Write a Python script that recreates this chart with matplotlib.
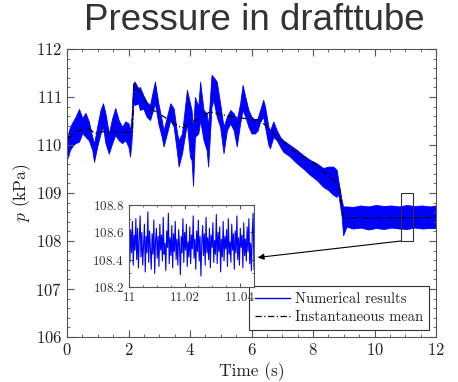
import numpy as np
import matplotlib
matplotlib.use('Agg')
import matplotlib.pyplot as plt
from matplotlib.patches import Rectangle
from matplotlib.ticker import MultipleLocator

# envelope of the numerical signal
t_env = [0.00, 0.10, 0.20, 0.28, 0.39, 0.50, 0.60, 0.71, 0.82, 0.88, 0.98, 1.09, 1.17, 1.25,
         1.36, 1.47, 1.57, 1.68, 1.79, 1.90, 2.00, 2.05, 2.10, 2.15, 2.20, 2.32, 2.37, 2.48,
         2.59, 2.70, 2.80, 2.86, 2.97, 3.08, 3.14, 3.25, 3.36, 3.47, 3.58, 3.63, 3.74, 3.90,
         4.00, 4.05, 4.10, 4.16, 4.27, 4.33, 4.44, 4.54, 4.59, 4.70, 4.76, 4.87, 4.98, 5.09,
         5.20, 5.31, 5.42, 5.52, 5.63, 5.71, 5.80, 5.90, 6.00, 6.11, 6.20, 6.28, 6.38, 6.44,
         6.55, 6.60, 6.71, 6.82, 6.93, 7.03, 7.25, 7.47, 7.68, 7.90, 8.12, 8.33, 8.50, 8.66,
         8.77, 8.82, 8.93, 8.98, 9.09, 9.30, 9.55, 9.80, 10.05, 10.30, 10.55, 10.80, 11.05,
         11.30, 11.55, 11.80, 12.00]
p_lo = [109.70, 109.90, 110.00, 110.04, 110.07, 110.25, 110.17, 110.10, 109.90, 109.65, 109.96,
        110.24, 110.38, 110.04, 109.82, 110.04, 110.21, 110.10, 110.04, 110.10, 109.96, 109.76,
        110.10, 110.87, 110.83, 110.87, 110.73, 110.76, 110.59, 110.52, 110.73, 110.87, 110.45,
        110.17, 109.97, 110.24, 110.52, 110.38, 109.83, 109.55, 109.83, 110.45, 109.75, 109.69,
        109.15, 110.17, 110.24, 110.52, 110.10, 109.90, 109.55, 110.80, 110.94, 110.59, 110.38,
        109.83, 110.31, 110.45, 110.31, 109.97, 110.45, 110.73, 110.59, 110.38, 110.24, 110.24,
        110.30, 110.49, 110.59, 110.38, 110.00, 109.93, 110.17, 110.10, 109.97, 109.86, 109.76,
        109.62, 109.51, 109.38, 109.27, 109.13, 109.06, 108.96, 108.92, 108.99, 108.52, 108.12,
        108.30, 108.26, 108.28, 108.24, 108.27, 108.25, 108.28, 108.26, 108.25, 108.28, 108.26,
        108.27, 108.27]
p_hi = [110.15, 110.38, 110.50, 110.59, 110.75, 110.56, 110.67, 110.49, 110.17, 110.03, 110.38,
        110.73, 110.87, 110.66, 110.24, 110.56, 110.77, 110.52, 110.38, 110.49, 110.45, 110.30,
        110.60, 111.28, 111.32, 111.18, 111.21, 111.04, 110.90, 110.83, 111.15, 111.32, 110.87,
        110.52, 110.30, 110.59, 110.87, 110.76, 110.24, 110.10, 110.24, 111.15, 110.87, 110.73,
        110.30, 111.00, 110.80, 111.32, 110.73, 110.66, 110.40, 111.46, 111.42, 111.32, 110.87,
        110.38, 110.59, 110.73, 110.66, 110.52, 110.87, 111.25, 111.00, 110.73, 110.59, 110.52,
        110.56, 110.73, 110.94, 110.80, 110.38, 110.30, 110.49, 110.31, 110.17, 110.10, 110.00,
        109.90, 109.79, 109.69, 109.62, 109.52, 109.55, 109.55, 109.48, 109.27, 108.85, 108.72,
        108.72, 108.71, 108.74, 108.72, 108.75, 108.73, 108.74, 108.72, 108.75, 108.73, 108.74,
        108.72, 108.74]

# instantaneous mean
t_mean = [0.0, 0.3, 0.71, 0.9, 1.2, 2.0, 2.13, 2.17, 2.7, 3.74, 4.65, 5.3, 6.0, 6.28, 6.7,
          7.25, 8.12, 8.85, 9.0, 12.0]
p_mean = [110.12, 110.28, 110.35, 110.24, 110.28, 110.26, 110.26, 111.28, 110.77, 110.35,
          110.69, 110.60, 110.53, 110.52, 110.24, 109.93, 109.58, 109.15, 108.48, 108.49]

# zoomed window 11 - 11.045 s
p_zoom = [108.55, 108.38, 108.62, 108.45, 108.68, 108.36, 108.58, 108.47, 108.70, 108.40, 108.63,
          108.34, 108.55, 108.72, 108.42, 108.60, 108.36, 108.52, 108.66, 108.31, 108.57, 108.45,
          108.75, 108.38, 108.61, 108.48, 108.33, 108.59, 108.44, 108.69, 108.30, 108.54, 108.63,
          108.41, 108.57, 108.35, 108.66, 108.47, 108.58, 108.39, 108.71, 108.44, 108.52, 108.32,
          108.61, 108.49, 108.74, 108.37, 108.56, 108.43, 108.65, 108.34, 108.59, 108.46, 108.68,
          108.40, 108.55, 108.36, 108.62, 108.50, 108.29, 108.57, 108.45, 108.70, 108.38, 108.60,
          108.47, 108.66, 108.35, 108.53, 108.42, 108.64, 108.37, 108.58, 108.48, 108.72, 108.41,
          108.55, 108.33, 108.61, 108.46, 108.69, 108.39, 108.57, 108.28, 108.52, 108.65, 108.43,
          108.59, 108.36, 108.71, 108.45, 108.56, 108.40, 108.63, 108.34, 108.58, 108.49, 108.67,
          108.38, 108.54, 108.44, 108.73, 108.37, 108.60, 108.46, 108.64, 108.31, 108.55, 108.42,
          108.68, 108.39, 108.57, 108.48, 108.62, 108.35, 108.70, 108.44, 108.53, 108.38, 108.66,
          108.47, 108.59, 108.33, 108.61, 108.45, 108.72, 108.40, 108.56, 108.36, 108.63, 108.49,
          108.58, 108.34, 108.67, 108.43, 108.55, 108.39, 108.64, 108.46, 108.70, 108.37, 108.52,
          108.32, 108.60, 108.74, 108.33]
t_zoom = np.linspace(11.0, 11.045, len(p_zoom))

plt.rcParams['font.family'] = 'serif'
plt.rcParams['font.serif'] = ['cmr10']
plt.rcParams['mathtext.fontset'] = 'cm'
plt.rcParams['axes.formatter.use_mathtext'] = True

blue = '#0000ff'
gray = '#555555'
txt = '#222222'

fig = plt.figure(figsize=(4.58, 3.82), dpi=100)
ax = fig.add_axes([67/458, 1-337/382, (436-67)/458, (337-49)/382])

ax.fill_between(t_env, p_lo, p_hi, color=blue, lw=0.6, edgecolor=blue)
ax.plot(t_mean, p_mean, color='k', ls='-.', lw=0.9, dashes=(5, 2, 1, 2))
ax.plot([], [], color=blue, lw=1.0, label='Numerical results')
ax.plot([], [], color='k', ls='-.', lw=0.9, dashes=(5, 2, 1, 2), label='Instantaneous mean')

ax.set_xlim(0, 12)
ax.set_ylim(106, 112)
ax.xaxis.set_major_locator(MultipleLocator(2))
ax.xaxis.set_minor_locator(MultipleLocator(0.5))
ax.yaxis.set_major_locator(MultipleLocator(1))
ax.yaxis.set_minor_locator(MultipleLocator(0.2))
ax.tick_params(which='both', direction='in', top=True, right=True, color=gray,
               labelsize=12, labelcolor=txt)
ax.tick_params(which='major', length=5)
ax.tick_params(which='minor', length=2.5)
for s in ax.spines.values():
    s.set_color(gray)
ax.set_xlabel('Time (s)', fontsize=12.5, labelpad=3, color=txt)
ax.set_ylabel('$p$ (kPa)', fontsize=12.5, labelpad=2, color=txt)

ax.add_patch(Rectangle((10.86, 108.0), 0.38, 1.0, fill=False, ec='#333333', lw=0.8, zorder=5))

leg = ax.legend(loc='lower right', fontsize=10.5, fancybox=False, framealpha=1,
                edgecolor='#333333', handlelength=2.4, borderpad=0.45, labelspacing=0.3,
                handletextpad=0.3, borderaxespad=0.45)
leg.get_frame().set_linewidth(0.8)
for t in leg.get_texts():
    t.set_color(txt)

axin = fig.add_axes([129/458, 1-287/382, (254-129)/458, (287-205)/382])
axin.plot(t_zoom, p_zoom, color=blue, lw=0.8)
axin.set_xlim(11.0, 11.045)
axin.set_ylim(108.2, 108.8)
axin.set_xticks([11.0, 11.02, 11.04])
axin.set_xticklabels(['11', '11.02', '11.04'])
axin.xaxis.set_minor_locator(MultipleLocator(0.005))
axin.yaxis.set_major_locator(MultipleLocator(0.2))
axin.yaxis.set_minor_locator(MultipleLocator(0.1))
axin.tick_params(which='both', direction='in', top=True, right=True, color=gray,
                 labelsize=9.5, labelcolor='#333333')
axin.tick_params(which='major', length=3)
axin.tick_params(which='minor', length=1.5)
for s in axin.spines.values():
    s.set_color(gray)

ax.annotate('', xy=(1.03, 0.36), xycoords=axin.transAxes, xytext=(10.86, 108.0),
            textcoords='data', arrowprops=dict(arrowstyle='-|>', color='k', lw=0.8,
                                               shrinkA=0, shrinkB=0, mutation_scale=9))

fig.text(254/458, 1-21/382, 'Pressure in drafttube', ha='center', va='center',
         fontsize=26.5, family='Liberation Sans', color='#333333')

fig.savefig('out.png', dpi=100)
